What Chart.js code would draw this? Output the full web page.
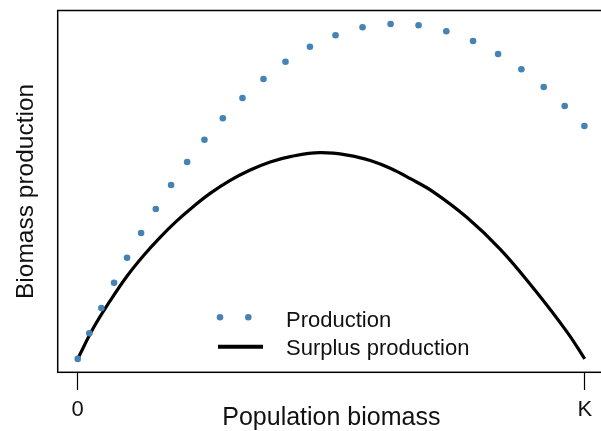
<!DOCTYPE html>
<html>
<head>
<meta charset="utf-8">
<script src="https://cdn.jsdelivr.net/npm/chart.js@4/dist/chart.umd.min.js"></script>
<style>
  html, body { margin: 0; padding: 0; overflow: hidden; background: #fff; }
  #wrap { position: relative; width: 612px; height: 431px; }
</style>
</head>
<body>
<div id="wrap"><canvas id="c"></canvas></div>
<script>
// ---- data (x in % of carrying capacity K, y in relative biomass units) ----
const productionX = [0, 2.29, 4.66, 7.17, 9.73, 12.50, 15.40, 18.42, 21.58, 24.99, 28.62, 32.49, 36.64,
  40.98, 45.80, 50.85, 56.18, 61.71, 67.23, 72.70, 77.97, 82.91, 87.51, 91.91, 96.05, 99.94];
const productionY = [0, 7.64, 15.19, 22.75, 30.21, 37.58, 44.75, 51.91, 58.78, 65.43, 71.82, 77.88, 83.55,
  88.72, 93.19, 96.60, 98.99, 99.97, 99.58, 97.79, 94.90, 91.01, 86.45, 81.16, 75.49, 69.52];
const surplusX = [0, 3.08, 6.38, 9.67, 12.95, 16.25, 19.54, 22.82, 26.12, 30.07, 34.02, 37.97, 41.91,
  47.83, 53.75, 57.70, 61.65, 65.60, 70.19, 76.79, 83.36, 89.93, 96.53, 100];
const surplusY = [0, 9.2, 17.3, 24.6, 30.8, 36.3, 41.2, 45.5, 49.4, 53.3, 56.4, 58.8, 60.4,
  61.55, 60.7, 59.2, 56.9, 53.8, 49.8, 42.2, 32.7, 21.0, 8.0, 0];
const xTickValues = [0, 100];
const xTickLabels = ['0', 'K'];
const seriesNames = ['Production', 'Surplus production'];
const axisTitles = { x: 'Population biomass', y: 'Biomass production' };

const FONT = '"Liberation Sans", Arial, Helvetica, sans-serif';
const BLUE = '#4682B4';

const boxPlugin = {
  id: 'boxPlugin',
  afterDraw(chart) {
    const { ctx, chartArea: a } = chart;
    ctx.save();
    ctx.strokeStyle = '#000';
    ctx.lineWidth = 1.5;
    ctx.strokeRect(a.left, a.top, a.right - a.left, a.bottom - a.top);
    ctx.restore();
  }
};

const legendPlugin = {
  id: 'customLegend',
  afterDraw(chart) {
    const { ctx } = chart;
    ctx.save();
    ctx.fillStyle = BLUE;
    [220, 248.3].forEach(x => {
      ctx.beginPath();
      ctx.arc(x, 317.3, 3.3, 0, Math.PI * 2);
      ctx.fill();
    });
    ctx.strokeStyle = '#000';
    ctx.lineWidth = 4;
    ctx.beginPath();
    ctx.moveTo(218, 346.7);
    ctx.lineTo(263, 346.7);
    ctx.stroke();
    ctx.fillStyle = '#111';
    ctx.font = '22px ' + FONT;
    ctx.textBaseline = 'alphabetic';
    ctx.textAlign = 'left';
    ctx.fillText(seriesNames[0], 286, 326.5);
    ctx.fillText(seriesNames[1], 286, 355);
    ctx.restore();
  }
};

new Chart(document.getElementById('c'), {
  type: 'scatter',
  data: {
    datasets: [
      {
        label: seriesNames[0],
        data: productionX.map((x, i) => ({ x, y: productionY[i] })),
        showLine: false,
        pointRadius: 3.3,
        pointHoverRadius: 3.3,
        pointBackgroundColor: BLUE,
        pointBorderWidth: 0,
        backgroundColor: BLUE,
        borderColor: BLUE
      },
      {
        label: seriesNames[1],
        data: surplusX.map((x, i) => ({ x, y: surplusY[i] })),
        showLine: true,
        pointRadius: 0,
        borderColor: '#000',
        borderWidth: 3.2,
        tension: 0.4,
        fill: false
      }
    ]
  },
  options: {
    responsive: true,
    maintainAspectRatio: false,
    animation: false,
    events: [],
    layout: { padding: { left: 0, top: 10.5, right: 7, bottom: 0 } },
    plugins: { legend: { display: false }, tooltip: { enabled: false } },
    scales: {
      x: {
        type: 'linear',
        min: -3.95,
        max: 104,
        afterBuildTicks(axis) { axis.ticks = xTickValues.map(v => ({ value: v })); },
        afterFit(axis) { axis.height = 58.7; },
        ticks: {
          callback: (v) => xTickLabels[xTickValues.indexOf(v)],
          font: { family: FONT, size: 22 },
          color: '#111',
          padding: 7,
          maxRotation: 0,
          autoSkip: false
        },
        grid: {
          display: true,
          drawOnChartArea: false,
          drawTicks: true,
          tickLength: 17.7,
          tickColor: '#000',
          tickWidth: 1.2
        },
        border: { display: false },
        title: {
          display: true,
          text: axisTitles.x,
          font: { family: FONT, size: 25 },
          color: '#111',
          padding: { top: 0, bottom: -2 }
        }
      },
      y: {
        type: 'linear',
        min: -4,
        max: 104,
        afterFit(axis) { axis.width = 57.7; },
        ticks: { display: false },
        grid: { display: false },
        border: { display: false },
        title: {
          display: true,
          text: axisTitles.y,
          font: { family: FONT, size: 24.5 },
          color: '#111',
          padding: { top: 12, bottom: 0 }
        }
      }
    }
  },
  plugins: [boxPlugin, legendPlugin]
});
</script>
</body>
</html>
